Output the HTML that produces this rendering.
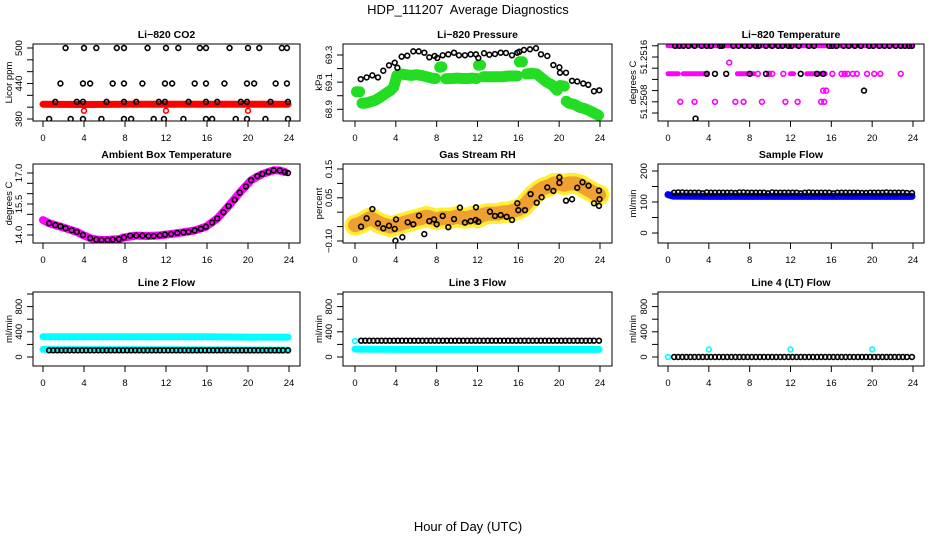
<!DOCTYPE html>
<html><head><meta charset="utf-8"><style>
body{margin:0;background:#fff}
svg{display:block;font-family:"Liberation Sans",sans-serif}
</style></head><body>
<svg id="c" width="936" height="540" viewBox="0 0 936 540" xmlns="http://www.w3.org/2000/svg">
<rect width="936" height="540" fill="#fff"/>
<text x="468" y="14" text-anchor="middle" font-size="13">HDP_111207&#160; Average Diagnostics</text>
<text x="468" y="531" text-anchor="middle" font-size="13">Hour of Day (UTC)</text>
</svg>
<script>
// ---------- data ----------
const xTicks=[0,4,8,12,16,20,24];
// CO2
const co2Hours=[2.2,4.0,5.2,7.2,7.9,10.2,12.0,13.2,15.3,15.9,18.2,20.0,21.1,23.3,23.8,
1.7,3.9,4.6,6.8,7.9,9.7,11.9,12.6,14.8,15.9,17.7,19.9,20.6,22.7,23.8,
1.2,3.3,3.9,6.2,7.9,9.1,11.3,11.9,14.2,15.9,17.0,19.3,19.9,22.2,23.9,
0.6,2.7,3.9,5.7,7.9,8.6,10.8,11.8,13.7,15.9,16.5,18.8,19.9,21.7,23.9];
const co2Values=[500,500,500,500,500,500,500,500,500,500,500,500,500,500,500,
440,440,440,440,440,440,440,440,440,440,440,440,440,440,440,
409,409,409,409,409,409,409,409,409,409,409,409,409,409,409,
380,380,380,380,380,380,380,380,380,380,380,380,380,380,380];
const co2RedHours=[0,4,8,12,16,20,23.9];
const co2RedValues=[405,404.5,405,405,405,405,405];
const co2OutHours=[4,12,20];
const co2OutValues=[394,394,394];
// Pressure
const presHours=[0.56,1.14,1.7,2.25,2.77,3.33,3.89,4.15,4.57,5.12,5.71,6.24,6.79,7.28,7.8,8.06,8.59,9.14,9.7,10.18,10.77,11.33,11.85,12.08,12.64,13.16,13.71,14.27,14.79,15.38,15.9,16.09,16.55,17.14,17.73,18.22,18.84,19.43,20.02,20.08,20.67,21.26,21.77,22.36,22.85,23.41,23.93];
const presValues=[69.122,69.135,69.15,69.135,69.184,69.224,69.243,69.206,69.288,69.295,69.327,69.327,69.317,69.283,69.293,69.278,69.298,69.305,69.317,69.298,69.298,69.305,69.305,69.278,69.313,69.302,69.307,69.317,69.315,69.298,69.317,69.324,69.337,69.342,69.35,69.305,69.293,69.226,69.209,69.169,69.169,69.11,69.105,69.09,69.08,69.033,69.04];
const presGreenHours=[0.15,0.45,null,0.7,1.0,1.5,2.0,2.5,3.0,3.5,3.8,4.1,4.5,5,5.5,6,6.5,7,7.5,7.9,null,8.3,8.5,null,8.9,9.5,10,10.5,11,11.5,11.9,null,12.1,12.3,null,12.6,13,13.5,14,14.5,15,15.5,15.9,null,16.1,16.4,null,16.8,17.3,17.8,18.3,18.8,19.3,19.8,null,20.1,20.5,null,20.7,21,21.5,22,22.5,23,23.5,23.85];
const presGreenValues=[69.03,69.03,null,68.945,68.945,68.955,68.967,68.99,69.016,69.04,69.065,69.15,69.16,69.155,69.15,69.155,69.15,69.14,69.13,69.127,null,69.21,69.213,null,69.125,69.127,69.13,69.127,69.127,69.13,69.127,null,69.225,69.226,null,69.14,69.14,69.14,69.14,69.14,69.145,69.145,69.145,null,69.25,69.25,null,69.16,69.165,69.16,69.13,69.1,69.08,69.04,null,69.075,69.07,null,68.96,68.944,68.935,68.915,68.905,68.888,68.87,68.856];
// Li-820 temperature
const tempHours=[0.7,1.1,1.5,2.0,2.6,3.3,3.8,4.2,5.1,5.3,6.4,6.9,7.5,8.0,8.6,8.9,9.6,10.2,10.8,11.2,11.8,12.1,12.8,13.8,14.3,15.8,16.1,16.5,17.2,17.7,18.3,18.9,19.7,20.1,20.7,21.2,21.7,22.3,22.8,23.2,23.6,23.9,
3.8,4.6,5.7,8.0,9.6,13.0,14.6,15.2,19.2,2.7];
const tempValues=[51.2518,51.2518,51.2518,51.2518,51.2518,51.2518,51.2518,51.2518,51.2518,51.2518,51.2518,51.2518,51.2518,51.2518,51.2518,51.2518,51.2518,51.2518,51.2518,51.2518,51.2518,51.2518,51.2518,51.2518,51.2518,51.2518,51.2518,51.2518,51.2518,51.2518,51.2518,51.2518,51.2518,51.2518,51.2518,51.2518,51.2518,51.2518,51.2518,51.2518,51.2518,51.2518,
51.2513,51.2513,51.2513,51.2513,51.2513,51.2513,51.2513,51.2513,51.2510,51.2505];
const tempMagBandHours=[0,23.9,null,0,1.0,null,1.5,3.8,null,6.8,8.4,null,12.0,12.3,null,13.6,15.4];
const tempMagBandValues=[51.2518,51.2518,null,51.2513,51.2513,null,51.2513,51.2513,null,51.2513,51.2513,null,51.2513,51.2513,null,51.2513,51.2513];
const tempMagHours=[8.8,9.9,10.2,11.3,16.1,17,17.3,17.6,18.1,18.5,19.5,20.2,20.8,22.8,
1.2,2.6,4.6,6.6,7.4,9.2,11.5,12.7,15.0,15.3,15.2,15.5,6.0];
const tempMagValues=[51.2513,51.2513,51.2513,51.2513,51.2513,51.2513,51.2513,51.2513,51.2513,51.2513,51.2513,51.2513,51.2513,51.2513,
51.2508,51.2508,51.2508,51.2508,51.2508,51.2508,51.2508,51.2508,51.2508,51.2508,51.2510,51.2510,51.2515];
// Ambient box temperature
const ambHours=[0.6,1.2,1.7,2.2,2.8,3.3,3.9,4.6,5.2,5.7,6.3,6.8,7.4,7.9,8.5,9.1,9.7,10.3,10.8,11.4,11.9,12.5,13.1,13.7,14.2,14.8,15.4,15.9,16.5,17.0,17.6,18.1,18.7,19.2,19.8,20.3,20.9,21.4,22.0,22.5,23.1,23.6,23.9];
const ambValues=[14.57,14.48,14.42,14.33,14.23,14.15,14.0,13.85,13.78,13.76,13.76,13.78,13.8,13.88,13.97,13.97,13.97,13.95,13.95,13.98,14.02,14.05,14.1,14.13,14.15,14.22,14.3,14.4,14.6,14.8,15.1,15.4,15.7,16.05,16.35,16.65,16.85,16.95,17.05,17.13,17.12,17.05,17.0];
const ambMagHours=[0,0.6,1.2,2.2,3.3,3.9,4.6,5.2,5.7,6.3,6.8,7.4,7.9,9.1,10.3,11.4,12.5,13.7,14.8,15.9,17.0,18.1,19.2,20.3,21.4,22.5,23.1,23.6];
const ambMagValues=[14.72,14.57,14.48,14.33,14.15,14.0,13.85,13.78,13.76,13.76,13.78,13.8,13.88,13.97,13.95,13.98,14.05,14.13,14.22,14.4,14.8,15.4,16.05,16.65,16.95,17.13,17.12,17.05];
// Gas stream RH
const rhHours=[0.59,1.14,1.7,2.25,2.77,3.33,3.89,4.02,3.96,4.64,5.16,5.71,6.27,6.79,7.28,7.74,8.0,8.59,9.14,9.7,10.28,10.77,11.33,11.82,11.85,12.08,13.22,13.71,14.27,14.85,15.38,15.9,16.0,16.65,17.2,17.8,18.28,18.84,19.43,20.02,20.02,20.67,21.26,21.77,22.29,22.88,23.41,23.9,23.9,23.95];
const rhValues=[-0.05,-0.021,0.011,-0.039,-0.056,-0.047,-0.058,-0.025,-0.099,-0.087,-0.035,-0.042,-0.012,-0.076,-0.031,-0.025,-0.042,-0.013,-0.052,-0.024,0.016,-0.036,-0.031,-0.027,0.017,-0.033,0.002,-0.013,-0.01,-0.016,-0.027,0.031,0.007,0.007,0.063,0.033,0.052,0.086,0.074,0.102,0.121,0.04,0.045,0.085,0.104,0.092,0.031,0.022,0.075,0.045];
const rhCloudHours=[0,0.5,1,1.5,2,2.5,3,3.5,4,4.5,5,5.5,6,6.5,7,7.5,8,8.5,9,9.5,10,10.5,11,11.5,12,12.5,13,13.5,14,14.5,15,15.5,16,16.5,17,17.5,18,18.5,19,19.5,20,20.5,21,21.5,22,22.5,23,23.5,23.9];
const rhCloudValues=[-0.045,-0.04,-0.03,-0.02,-0.03,-0.04,-0.045,-0.05,-0.045,-0.04,-0.035,-0.03,-0.025,-0.02,-0.015,-0.02,-0.025,-0.02,-0.02,-0.02,-0.015,-0.02,-0.02,-0.015,-0.02,-0.01,-0.005,-0.005,-0.005,0,0,0.005,0.01,0.02,0.04,0.06,0.075,0.085,0.09,0.1,0.1,0.095,0.1,0.1,0.095,0.085,0.075,0.065,0.06];
// flows (shared observation hours)
const flowHours=[0.6,1.0,1.4,1.8,2.2,2.6,3.0,3.4,3.8,4.2,4.6,5.0,5.4,5.8,6.2,6.6,7.0,7.4,7.8,8.2,8.6,9.0,9.4,9.8,10.2,10.6,11.0,11.4,11.8,12.2,12.6,13.0,13.4,13.8,14.2,14.6,15.0,15.4,15.8,16.2,16.6,17.0,17.4,17.8,18.2,18.6,19.0,19.4,19.8,20.2,20.6,21.0,21.4,21.8,22.2,22.6,23.0,23.4,23.9];
const sampleBlack=[130,131,131,130,130,130,130,128,131,130,130,130,130,130,130,129,131,131,130,130,130,130,130,128,131,130,130,130,130,130,130,128,130,131,130,130,130,130,130,128,130,130,130,130,130,130,129,129,130,130,130,130,131,130,130,130,130,129,129];
const sampleBlueHours=[0,0.5,4,8,12,16,20,23.9];
const sampleBlueValues=[124,119,118,118,118,118,118,118];
const line2Black=[106,106,106,106,106,106,106,106,106,106,106,106,106,106,106,106,106,106,106,106,106,106,106,106,106,106,106,106,106,106,106,106,106,106,106,106,106,106,106,106,106,106,106,106,106,106,106,106,106,106,106,106,106,106,106,106,106,106,106];
const line2CyanHours=[0,4,8,12,16,20,23.9];
const line2CyanValues=[322,322,322,322,322,316,316];
const line2CyanLowHours=[0,23.9];
const line2CyanLowValues=[120,110];
const line3Black=[259,259,259,259,259,259,259,259,259,259,259,259,259,259,259,259,259,259,259,259,259,259,259,259,259,259,259,259,259,259,259,259,259,259,259,259,259,259,259,259,259,259,259,259,259,259,259,259,259,259,259,259,259,259,259,259,259,259,259];
const line3CyanHours=[0,4,8,12,16,20,23.9];
const line3CyanValues=[125,120,120,120,120,120,120];
const line3CyanPtHours=[0];
const line3CyanPtValues=[255];
const line4Black=[0,0,0,0,0,0,0,0,0,0,0,0,0,0,0,0,0,0,0,0,0,0,0,0,0,0,0,0,0,0,0,0,0,0,0,0,0,0,0,0,0,0,0,0,0,0,0,0,0,0,0,0,0,0,0,0,0,0,0];
const line4CyanHours=[0,4,12,20];
const line4CyanValues=[0,120,120,120];

// ---------- drawing ----------
const svg=document.getElementById('c');
const NS='http://www.w3.org/2000/svg';
function el(tag,attrs,parent){const e=document.createElementNS(NS,tag);for(const k in attrs)e.setAttribute(k,attrs[k]);(parent||svg).appendChild(e);return e;}
const cols=[{bl:33,br:300,h0:43,h24:289,yl:8},{bl:343,br:612,h0:355,h24:600,yl:318},{bl:658,br:924,h0:668,h24:913,yl:632}];
const rows=[{bt:44,bb:121},{bt:164,bb:243},{bt:292,bb:366}];
function makePanel(name,c,r,title,ylab,v0,p0,v1,p1,ticks,labels){
  const C=cols[c],R=rows[r];
  const g=el('g',{});
  
  
  const x=h=>C.h0+(C.h24-C.h0)*h/24;
  const y=v=>p0+(p1-p0)*(v-v0)/(v1-v0);
  const t=el('text',{x:(C.bl+C.br)/2,y:R.bt-6,'text-anchor':'middle','font-size':10.5,'font-weight':'bold'},g);
  t.textContent=title;
  
  
  const yl=el('text',{x:C.yl+4,y:(R.bt+R.bb)/2,'text-anchor':'middle','font-size':9.5,transform:`rotate(-90 ${C.yl+4} ${(R.bt+R.bb)/2})`},g);
  yl.textContent=ylab;
  
  
  const plot=el('g',{},g);
  const axes=el('g',{},g);
  const box=el('rect',{x:C.bl,y:R.bt,width:C.br-C.bl,height:R.bb-R.bt,fill:'none',stroke:'#000','stroke-width':1},axes);
  
  
  el('line',{x1:x(0),x2:x(24),y1:R.bb,y2:R.bb,stroke:'#000'},axes);
  xTicks.forEach(h=>{
    el('line',{x1:x(h),x2:x(h),y1:R.bb,y2:R.bb+6,stroke:'#000'},axes);
    const tl=el('text',{x:x(h),y:R.bb+20,'text-anchor':'middle','font-size':9.5},axes);
    tl.textContent=h;
    
    
  });
  el('line',{x1:C.bl,x2:C.bl,y1:y(ticks[0]),y2:y(ticks[ticks.length-1]),stroke:'#000'},axes);
  ticks.forEach(v=>el('line',{x1:C.bl-6,x2:C.bl,y1:y(v),y2:y(v),stroke:'#000'},axes));
  labels.forEach(([v,s])=>{
    const lx=C.bl-11,ly=y(v);
    const tl=el('text',{x:lx,y:ly,'text-anchor':'middle','font-size':9.5,transform:`rotate(-90 ${lx} ${ly})`},axes);
    tl.textContent=s;
    
    
  });
  const clip='clip'+name;
  const cp=el('clipPath',{id:clip},g);el('rect',{x:C.bl,y:R.bt,width:C.br-C.bl,height:R.bb-R.bt},cp);
  plot.setAttribute('clip-path',`url(#${clip})`);
  return {x,y,plot};
}
function band(P,hs,vs,color,w,name){
  let d='',pen=false;
  hs.forEach((h,i)=>{if(h===null){pen=false;return;}d+=(pen?'L':'M')+P.x(h).toFixed(1)+' '+P.y(vs[i]).toFixed(1)+' ';pen=true;});
  const p=el('path',{d,fill:'none',stroke:color,'stroke-width':w,'stroke-linecap':'round','stroke-linejoin':'round'},P.plot);
  
  
}
function pts(P,hs,vs,color,name,r,sw){
  hs.forEach((h,i)=>{
    const c=el('circle',{cx:P.x(h),cy:P.y(vs[i]),r:r||2.4,fill:'none',stroke:color,'stroke-width':sw||1.6},P.plot);
    
    
  });
}
function rng(a,b,s){const o=[];for(let v=a;v<=b+1e-9;v+=s)o.push(+v.toFixed(6));return o;}

let P=makePanel('co2-panel',0,0,'Li\u2212820 CO2','Licor ppm',380,119,500,48,rng(380,500,20),[[380,'380'],[440,'440'],[500,'500']]);
band(P,co2RedHours,co2RedValues,'#ff0000',7,'co2-red-band');
pts(P,co2OutHours,co2OutValues,'#ff0000','co2-red-point');
pts(P,co2Hours,co2Values,'#000','co2-point');
P=makePanel('pressure-panel',1,0,'Li\u2212820 Pressure','kPa',68.9,109.3,69.3,55,rng(68.9,69.3,0.1),[[68.9,'68.9'],[69.1,'69.1'],[69.3,'69.3']]);
band(P,presGreenHours,presGreenValues,'#22dd22',11,'pressure-green-band');
pts(P,presHours,presValues,'#000','pressure-point');
P=makePanel('li-temp-panel',2,0,'Li\u2212820 Temperature','degrees C',51.2506,113,51.2518,45.8,rng(51.2506,51.2518,0.0002),[[51.2508,'51.2508'],[51.2516,'51.2516']]);
band(P,tempMagBandHours,tempMagBandValues,'#ff00ff',5,'temp-magenta-band');
pts(P,tempMagHours,tempMagValues,'#ff00ff','temp-magenta-point');
pts(P,tempHours,tempValues,'#000','temp-point');
P=makePanel('ambient-panel',0,1,'Ambient Box Temperature','degrees C',14,235,17,173,rng(14,17,0.5),[[14,'14.0'],[15.5,'15.5'],[17,'17.0']]);
band(P,ambMagHours,ambMagValues,'#ff00ff',8,'ambient-magenta-band');
pts(P,ambHours,ambValues,'#000','ambient-point');
P=makePanel('rh-panel',1,1,'Gas Stream RH','percent',-0.10,241,0.15,169,rng(-0.10,0.15,0.05),[[-0.10,'\u22120.10'],[0.05,'0.05'],[0.15,'0.15']]);
band(P,rhCloudHours,rhCloudValues,'#ffee33',21,'rh-yellow-cloud');
band(P,rhCloudHours,rhCloudValues,'#f0a030',14,'rh-orange-cloud');
pts(P,rhHours,rhValues,'#000','rh-point');
P=makePanel('sample-flow-panel',2,1,'Sample Flow','ml/min',0,233,200,171,rng(0,200,50),[[0,'0'],[100,'100'],[200,'200']]);
band(P,sampleBlueHours,sampleBlueValues,'#0000ee',7,'sample-blue-band');
pts(P,flowHours,sampleBlack,'#000','sample-point');
const fl=[[0,'0'],[400,'400'],[800,'800']];
P=makePanel('line2-panel',0,2,'Line 2 Flow','ml/min',0,357,1000,294,rng(0,1000,200),fl);
band(P,line2CyanHours,line2CyanValues,'#00ffff',7,'line2-cyan-band');
band(P,line2CyanLowHours,line2CyanLowValues,'#00ffff',7,'line2-cyan-low');
pts(P,flowHours,line2Black,'#000','line2-point');
P=makePanel('line3-panel',1,2,'Line 3 Flow','ml/min',0,357,1000,294,rng(0,1000,200),fl);
band(P,line3CyanHours,line3CyanValues,'#00ffff',7,'line3-cyan-band');
pts(P,line3CyanPtHours,line3CyanPtValues,'#00ffff','line3-cyan-point');
pts(P,flowHours,line3Black,'#000','line3-point');
P=makePanel('line4-panel',2,2,'Line 4 (LT) Flow','ml/min',0,357,1000,294,rng(0,1000,200),fl);
pts(P,line4CyanHours,line4CyanValues,'#00ffff','line4-cyan-point');
pts(P,flowHours,line4Black,'#000','line4-point');
</script>
</body></html>
